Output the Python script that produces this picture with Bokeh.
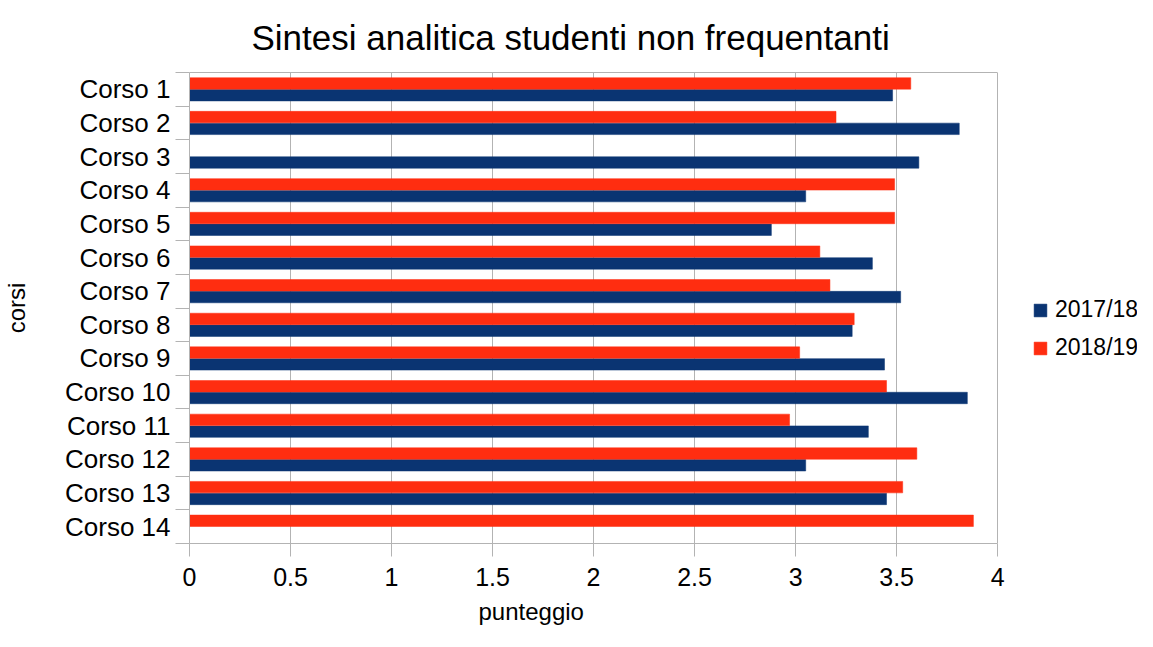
import numpy as np
from bokeh.plotting import figure
from bokeh.models import (ColumnDataSource, Range1d, FixedTicker, Legend, LegendItem, Title,
                          LinearAxis)
from bokeh.embed import file_html
from bokeh.resources import INLINE

courses = ["Corso 1", "Corso 2", "Corso 3", "Corso 4", "Corso 5", "Corso 6", "Corso 7",
           "Corso 8", "Corso 9", "Corso 10", "Corso 11", "Corso 12", "Corso 13", "Corso 14"]
series_names = ["2017/18", "2018/19"]
vals_2017 = [3.48, 3.81, 3.61, 3.05, 2.88, 3.38, 3.52, 3.28, 3.44, 3.85, 3.36, 3.05, 3.45, np.nan]
vals_2018 = [3.57, 3.20, np.nan, 3.49, 3.49, 3.12, 3.17, 3.29, 3.02, 3.45, 2.97, 3.60, 3.53, 3.88]
x_ticks = [0, 0.5, 1, 1.5, 2, 2.5, 3, 3.5, 4]
x_tick_labels = ["0", "0.5", "1", "1.5", "2", "2.5", "3", "3.5", "4"]

BLUE = "#0a3472"
RED = "#ff2d10"
FONT = "Liberation Sans"
GRID = "#b3b3b3"

W, H = 1137, 631
LEFT, TOP, BOTTOM = 188, 72, 86
PLOT_W = 809          # pixel width of the value axis 0..4
frame_w = W - LEFT
x_lo, x_hi = x_ticks[0], x_ticks[-1]
x_end = x_lo + (x_hi - x_lo) * frame_w / PLOT_W   # extra room on the right for the legend

n = len(courses)
idx = np.arange(n)

def make_source(vals, offset):
    v = np.array(vals, dtype=float)
    m = ~np.isnan(v)
    return ColumnDataSource(dict(y=(idx + offset)[m], right=v[m], course=np.array(courses)[m]))

src17 = make_source(vals_2017, 0.175)
src18 = make_source(vals_2018, -0.175)

p = figure(width=W, height=H, output_backend="svg", toolbar_location=None,
           x_range=Range1d(x_lo, x_end), y_range=Range1d(n - 0.5, -0.5),
           min_border_left=LEFT, min_border_right=0, min_border_top=TOP, min_border_bottom=BOTTOM)

p.title = Title(text="Sintesi analitica studenti non frequentanti", align="left",
                offset=62, text_font=FONT, text_font_size="35px", text_font_style="normal",
                text_color="#000000", standoff=28, vertical_align="top")

r17 = p.hbar(y="y", right="right", left=0, height=0.34, source=src17,
             fill_color=BLUE, line_color=BLUE, line_width=0.5)
r18 = p.hbar(y="y", right="right", left=0, height=0.34, source=src18,
             fill_color=RED, line_color=RED, line_width=0.5)

# x axis
xa = p.xaxis[0]
xa.ticker = FixedTicker(ticks=x_ticks)
xa.bounds = (x_lo, x_hi)
xa.major_label_overrides = {t: l for t, l in zip(x_ticks, x_tick_labels)}
xa.major_label_text_font = FONT
xa.major_label_text_font_size = "25px"
xa.major_label_text_color = "#000000"
xa.major_label_standoff = 11
xa.major_tick_out = 13
xa.major_tick_in = 0
xa.minor_tick_line_color = None
xa.axis_line_color = GRID
xa.major_tick_line_color = GRID

# x axis title (placed to match the reference position)
p.add_layout(Title(text="punteggio", align="left", offset=289, text_font=FONT,
                   text_font_size="24px", text_font_style="normal", text_color="#000000",
                   standoff=14, vertical_align="bottom"), "below")

# top border of the plot area
top_axis = LinearAxis(bounds=(x_lo, x_hi), ticker=FixedTicker(ticks=[]),
                      axis_line_color=GRID, major_tick_line_color=None,
                      minor_tick_line_color=None, major_tick_out=0, major_tick_in=0,
                      major_label_standoff=0, major_label_text_font_size="0px")
p.add_layout(top_axis, "above")

# y axis
ya = p.yaxis[0]
ya.ticker = FixedTicker(ticks=list(idx), minor_ticks=list(np.arange(n + 1) - 0.5))
ya.major_label_overrides = {int(i): c for i, c in zip(idx, courses)}
ya.axis_label = "corsi"
ya.axis_label_text_font = FONT
ya.axis_label_text_font_size = "24px"
ya.axis_label_text_font_style = "normal"
ya.axis_label_text_color = "#000000"
ya.axis_label_standoff = 32
ya.major_label_text_font = FONT
ya.major_label_text_font_size = "26px"
ya.major_label_text_color = "#000000"
ya.major_label_standoff = 5
ya.major_tick_line_color = None
ya.major_tick_out = 8
ya.minor_tick_out = 14
ya.minor_tick_in = 0
ya.minor_tick_line_color = GRID
ya.axis_line_color = GRID

p.xgrid.grid_line_color = GRID
p.xgrid.ticker = FixedTicker(ticks=x_ticks)
p.ygrid.grid_line_color = None
p.outline_line_color = None

legend = Legend(items=[LegendItem(label=series_names[0], renderers=[r17]),
                       LegendItem(label=series_names[1], renderers=[r18])],
                location=(1031 - LEFT, 182), padding=0, margin=0, spacing=11,
                glyph_width=16, glyph_height=16, label_standoff=7,
                label_text_font=FONT, label_text_font_size="23px", label_text_color="#000000",
                border_line_color=None, background_fill_alpha=0)
p.add_layout(legend)

open("out.html", "w").write(file_html(p, INLINE))
